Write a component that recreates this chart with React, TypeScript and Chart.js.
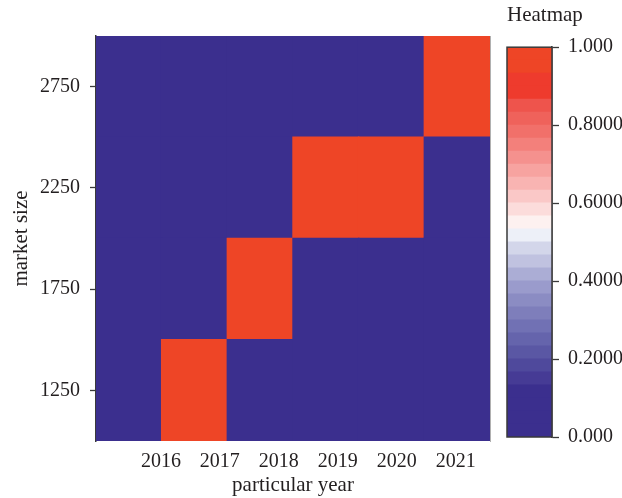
import React, { useEffect, useRef } from "react";
import { Chart, registerables } from "chart.js";

Chart.register(...registerables);

// ---------- data ----------
const years = [2016, 2017, 2018, 2019, 2020, 2021];
const cellColumns = ["c1", "c2", "c3", "c4", "c5", "c6"];
const rowEdges = [1000, 1500, 2000, 2500, 3000];
// rows from bottom (1000-1500) to top (2500-3000), columns left to right
const heatRow1 = [0, 1, 0, 0, 0, 0];
const heatRow2 = [0, 0, 1, 0, 0, 0];
const heatRow3 = [0, 0, 0, 1, 1, 0];
const heatRow4 = [0, 0, 0, 0, 0, 1];
const heatValues = [heatRow1, heatRow2, heatRow3, heatRow4];
const yTickValues = [1250, 1750, 2250, 2750];
const yearAxisRange = [2014.9, 2021.58];
const colorbarTicks = [0, 0.2, 0.4, 0.6, 0.8, 1];
// colour bands of the colour bar, from value 0 (bottom) to 1 (top)
const colorbarColors = [
  "#3b2f8e", "#3b2f8e", "#3b2f8e", "#3b2f8e",
  "#463b95", "#4f499c", "#5a57a4", "#6564ac", "#7171b4", "#7e7ebb",
  "#8b8cc3", "#9a9bcc", "#abadd5", "#c0c2e0", "#d3d6ea",
  "#edf0f8",
  "#fdf1f0", "#fcdcdb", "#fac8c7", "#f9b4b2", "#f7a3a0", "#f5918e",
  "#f3807b", "#f1706a", "#ef625b", "#ee544c",
  "#ee3b2d", "#ee3b2d",
  "#ee4526", "#ee4526",
];

const FONT = "'Liberation Serif', 'Times New Roman', serif";
const TEXT = "#231f20";
const AXIS = "#3a3a3a";

function colorFor(v: number): string {
  const n = colorbarColors.length;
  const i = Math.max(0, Math.min(n - 1, Math.floor(v * n)));
  return colorbarColors[i];
}

const framePlugin = {
  id: "cbFrame",
  afterDatasetsDraw(chart: any) {
    const { ctx, chartArea } = chart;
    ctx.save();
    ctx.strokeStyle = AXIS;
    ctx.lineWidth = 1.5;
    ctx.strokeRect(
      chartArea.left,
      chartArea.top,
      chartArea.right - chartArea.left,
      chartArea.bottom - chartArea.top
    );
    ctx.restore();
  },
};

export default function App() {
  const mainRef = useRef<HTMLCanvasElement>(null);
  const barRef = useRef<HTMLCanvasElement>(null);

  useEffect(() => {
    const main = new Chart(mainRef.current as HTMLCanvasElement, {
      type: "bar",
      data: {
        labels: cellColumns,
        datasets: heatValues.map((row, r) => ({
          label: "row" + r,
          data: row.map(() => [rowEdges[r], rowEdges[r + 1]]),
          backgroundColor: row.map((v) => colorFor(v)),
          borderWidth: 0,
          inflateAmount: 0.7,
          barPercentage: 1,
          categoryPercentage: 1,
          grouped: false,
        })) as any,
      },
      options: {
        responsive: false,
        animation: false,
        layout: { padding: { top: 36, right: 10, left: 0, bottom: 0 } },
        plugins: {
          legend: { display: false },
          tooltip: { enabled: false },
          title: { display: false },
        },
        scales: {
          x: { type: "category", display: false, offset: true },
          xYear: {
            type: "linear",
            position: "bottom",
            offset: false,
            min: yearAxisRange[0],
            max: yearAxisRange[1],
            afterBuildTicks: (ax: any) => {
              ax.ticks = years.map((v) => ({ value: v }));
            },
            afterFit: (ax: any) => {
              ax.height = 57;
            },
            ticks: {
              callback: (v: any) => String(v),
              font: { family: FONT, size: 20 },
              color: TEXT,
              padding: 9,
              maxRotation: 0,
              autoSkip: false,
            },
            grid: { display: false, drawTicks: false, offset: false },
            border: { display: false },
            title: {
              display: true,
              text: "particular year",
              font: { family: FONT, size: 21 },
              color: TEXT,
              padding: { top: 0, bottom: 0 },
            },
          },
          y: {
            type: "linear",
            position: "left",
            min: rowEdges[0],
            max: rowEdges[rowEdges.length - 1],
            afterBuildTicks: (ax: any) => {
              ax.ticks = yTickValues.map((v) => ({ value: v }));
            },
            afterFit: (ax: any) => {
              ax.width = 96;
            },
            ticks: {
              callback: (v: any) => String(v),
              font: { family: FONT, size: 20 },
              color: TEXT,
              padding: 10,
            },
            grid: {
              drawOnChartArea: false,
              tickLength: 6,
              tickColor: AXIS,
              tickWidth: 1.3,
            },
            border: { color: AXIS, width: 1.5 },
            title: {
              display: true,
              text: "market size",
              font: { family: FONT, size: 21 },
              color: TEXT,
              padding: { top: 9, bottom: 0 },
            },
          },
          yRight: {
            type: "linear",
            position: "right",
            min: rowEdges[0],
            max: rowEdges[rowEdges.length - 1],
            ticks: { display: false },
            grid: { display: false, drawTicks: false },
            border: { display: true, color: "#b0b0b0", width: 1 },
            afterFit: (ax: any) => {
              ax.width = 0;
            },
          },
        },
      } as any,
    });

    const n = colorbarColors.length;
    const bar = new Chart(barRef.current as HTMLCanvasElement, {
      type: "bar",
      data: {
        labels: ["Heatmap"],
        datasets: colorbarColors.map((c, i) => ({
          label: "band" + i,
          data: [[i / n, (i + 1) / n]],
          backgroundColor: c,
          borderWidth: 0,
          inflateAmount: 0.5,
          barPercentage: 1,
          categoryPercentage: 1,
          grouped: false,
        })) as any,
      },
      options: {
        responsive: false,
        animation: false,
        layout: { padding: { top: 0, right: 0, left: 7, bottom: 61 } },
        plugins: {
          legend: { display: false },
          tooltip: { enabled: false },
          title: {
            display: true,
            text: "Heatmap",
            align: "start",
            font: { family: FONT, size: 21, weight: "normal" },
            color: TEXT,
            padding: { top: 3, bottom: 19 },
          },
        },
        scales: {
          x: { type: "category", display: false, offset: true },
          y: {
            type: "linear",
            position: "right",
            min: 0,
            max: 1,
            afterBuildTicks: (ax: any) => {
              ax.ticks = colorbarTicks.map((v) => ({ value: v }));
            },
            afterFit: (ax: any) => {
              ax.width = 70;
            },
            ticks: {
              callback: (v: any) =>
                v === 0 || v === 1 ? Number(v).toFixed(3) : Number(v).toFixed(4),
              font: { family: FONT, size: 20 },
              color: TEXT,
              padding: 9,
            },
            grid: {
              drawOnChartArea: false,
              tickLength: 7,
              tickColor: AXIS,
              tickWidth: 1.3,
            },
            border: { color: AXIS, width: 1.5 },
          },
        },
      } as any,
      plugins: [framePlugin],
    });

    return () => {
      main.destroy();
      bar.destroy();
    };
  }, []);

  return (
    <div
      style={{
        position: "absolute",
        left: 0,
        top: 0,
        width: 622,
        height: 498,
        background: "#ffffff",
        overflow: "hidden",
      }}
    >
      <canvas
        ref={mainRef}
        width={500}
        height={498}
        style={{ position: "absolute", left: 0, top: 0, width: 500, height: 498 }}
      />
      <canvas
        ref={barRef}
        width={122}
        height={498}
        style={{ position: "absolute", left: 500, top: 0, width: 122, height: 498 }}
      />
    </div>
  );
}
